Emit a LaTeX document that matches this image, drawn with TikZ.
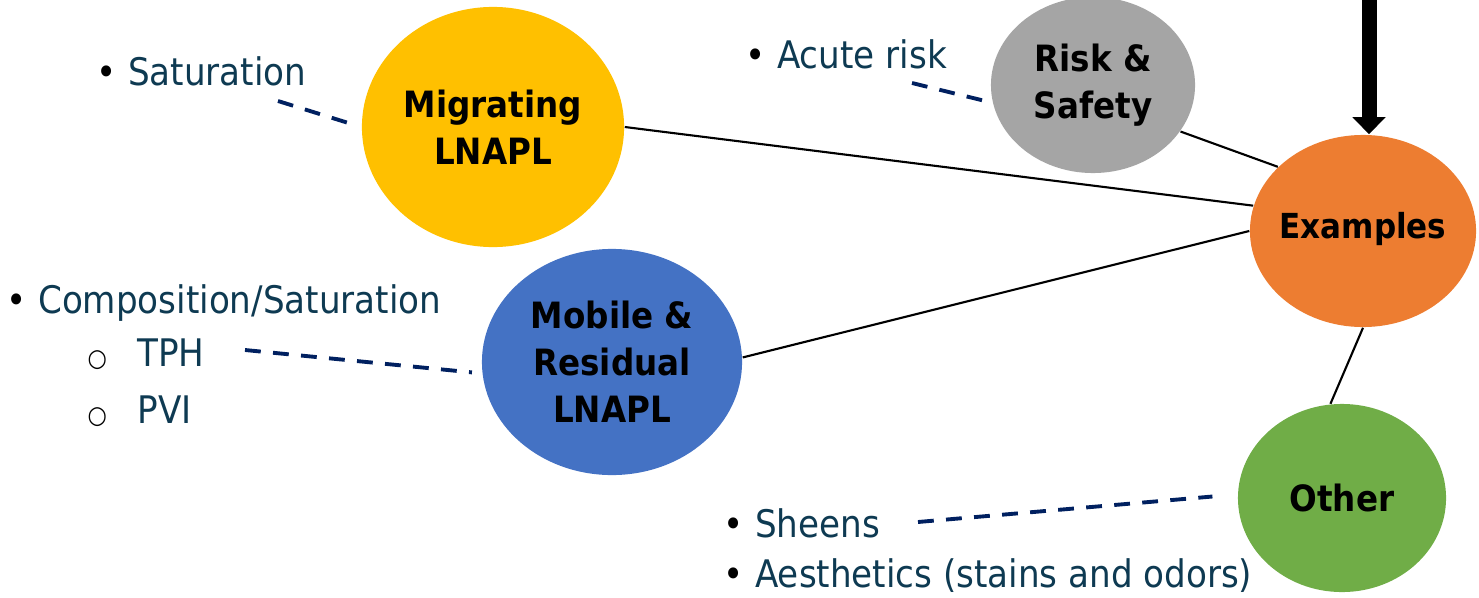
\documentclass[tikz,border=0pt]{standalone}
\usepackage{fontspec}
\setmainfont{DejaVu Sans Condensed}
\usetikzlibrary{shapes.geometric,arrows.meta}
\definecolor{migyellow}{RGB}{255,192,0}
\definecolor{riskgray}{RGB}{165,165,165}
\definecolor{exorange}{RGB}{237,125,49}
\definecolor{mobblue}{RGB}{68,114,196}
\definecolor{othgreen}{RGB}{112,173,71}
\definecolor{notenavy}{RGB}{14,58,82}
\definecolor{dashnavy}{RGB}{0,32,96}
\newcommand{\blt}{{\color{black}\textbullet}\hspace{0.3em}}
\newcommand{\cblt}{{\color{black}\scriptsize ○}\hspace{0.8em}}

\begin{document}
\begin{tikzpicture}[x=0.01cm, y=-0.01cm,
  bubble/.style={ellipse, inner sep=0pt, inner xsep=-0.1cm, font=\bfseries\fontsize{10.3}{13.3}\selectfont,
    align=center, text=black},
  note/.style={anchor=base west, inner sep=0pt, text=notenavy, font=\fontsize{10.8}{14}\selectfont},
  link/.style={black, line width=0.6pt},
  dashlink/.style={dashnavy, line width=1.1pt, dash pattern=on 4.5pt off 3.5pt}]
\useasboundingbox (0,0) rectangle (1479,597);

% Bubbles
\node[bubble, fill=migyellow, minimum width=2.62cm, minimum height=2.40cm] (mig) at (493,127) {Migrating\\LNAPL};
\node[bubble, fill=riskgray, minimum width=2.04cm, minimum height=1.76cm] (risk) at (1093,85) {Risk \&\\Safety};
\node[bubble, fill=exorange, minimum width=2.26cm, minimum height=1.92cm, font=\bfseries\fontsize{9.8}{12}\selectfont] (ex) at (1363,231) {\raisebox{0.12cm}{Examples}};
\node[bubble, fill=mobblue, minimum width=2.60cm, minimum height=2.26cm] (mob) at (612,362) {Mobile \&\\Residual\\LNAPL};
\node[bubble, fill=othgreen, minimum width=2.08cm, minimum height=1.88cm] (oth) at (1342,498) {Other};

% Notes
\node[note] (sat) at (96,85) {\blt Saturation};
\node[note] (acute) at (745,68) {\blt Acute risk};
\node[note] (comp) at (6,313) {\blt Composition/Saturation};
\node[note] (tph) at (87,366) {\cblt TPH};
\node[note] (pvi) at (87,423) {\cblt PVI};
\node[note] (sheens) at (723,537) {\blt Sheens};
\node[note] (aes) at (723,587) {\blt Aesthetics (stains and odors)};

% Solid links to Examples
\draw[link] (mig.east) -- (ex.167);
\draw[link] (risk.-28) -- (ex.143);
\draw[link] (mob.2) -- (ex.west);
\draw[link] (ex.south) -- (oth.97);

% Dashed links from notes
\coordinate (satend) at (278,101);
\coordinate (acuteend) at (912,83);
\coordinate (tphend) at (245,350);
\coordinate (sheensend) at (918,522);
\draw[dashlink, shorten >=0.06cm] (satend) -- (mig.west);
\draw[dashlink] (acuteend) -- (risk.190);
\draw[dashlink, shorten >=0.1cm] (tphend) -- (mob.185);
\draw[dashlink, shorten >=0.25cm] (sheensend) -- (oth.178);

% Input arrow
\coordinate (arrtop) at (1369,0);
\draw[line width=0.15cm, -{Triangle[width=0.32cm, length=0.17cm]}] (arrtop) -- (arrtop |- ex.north);
\end{tikzpicture}
\end{document}
